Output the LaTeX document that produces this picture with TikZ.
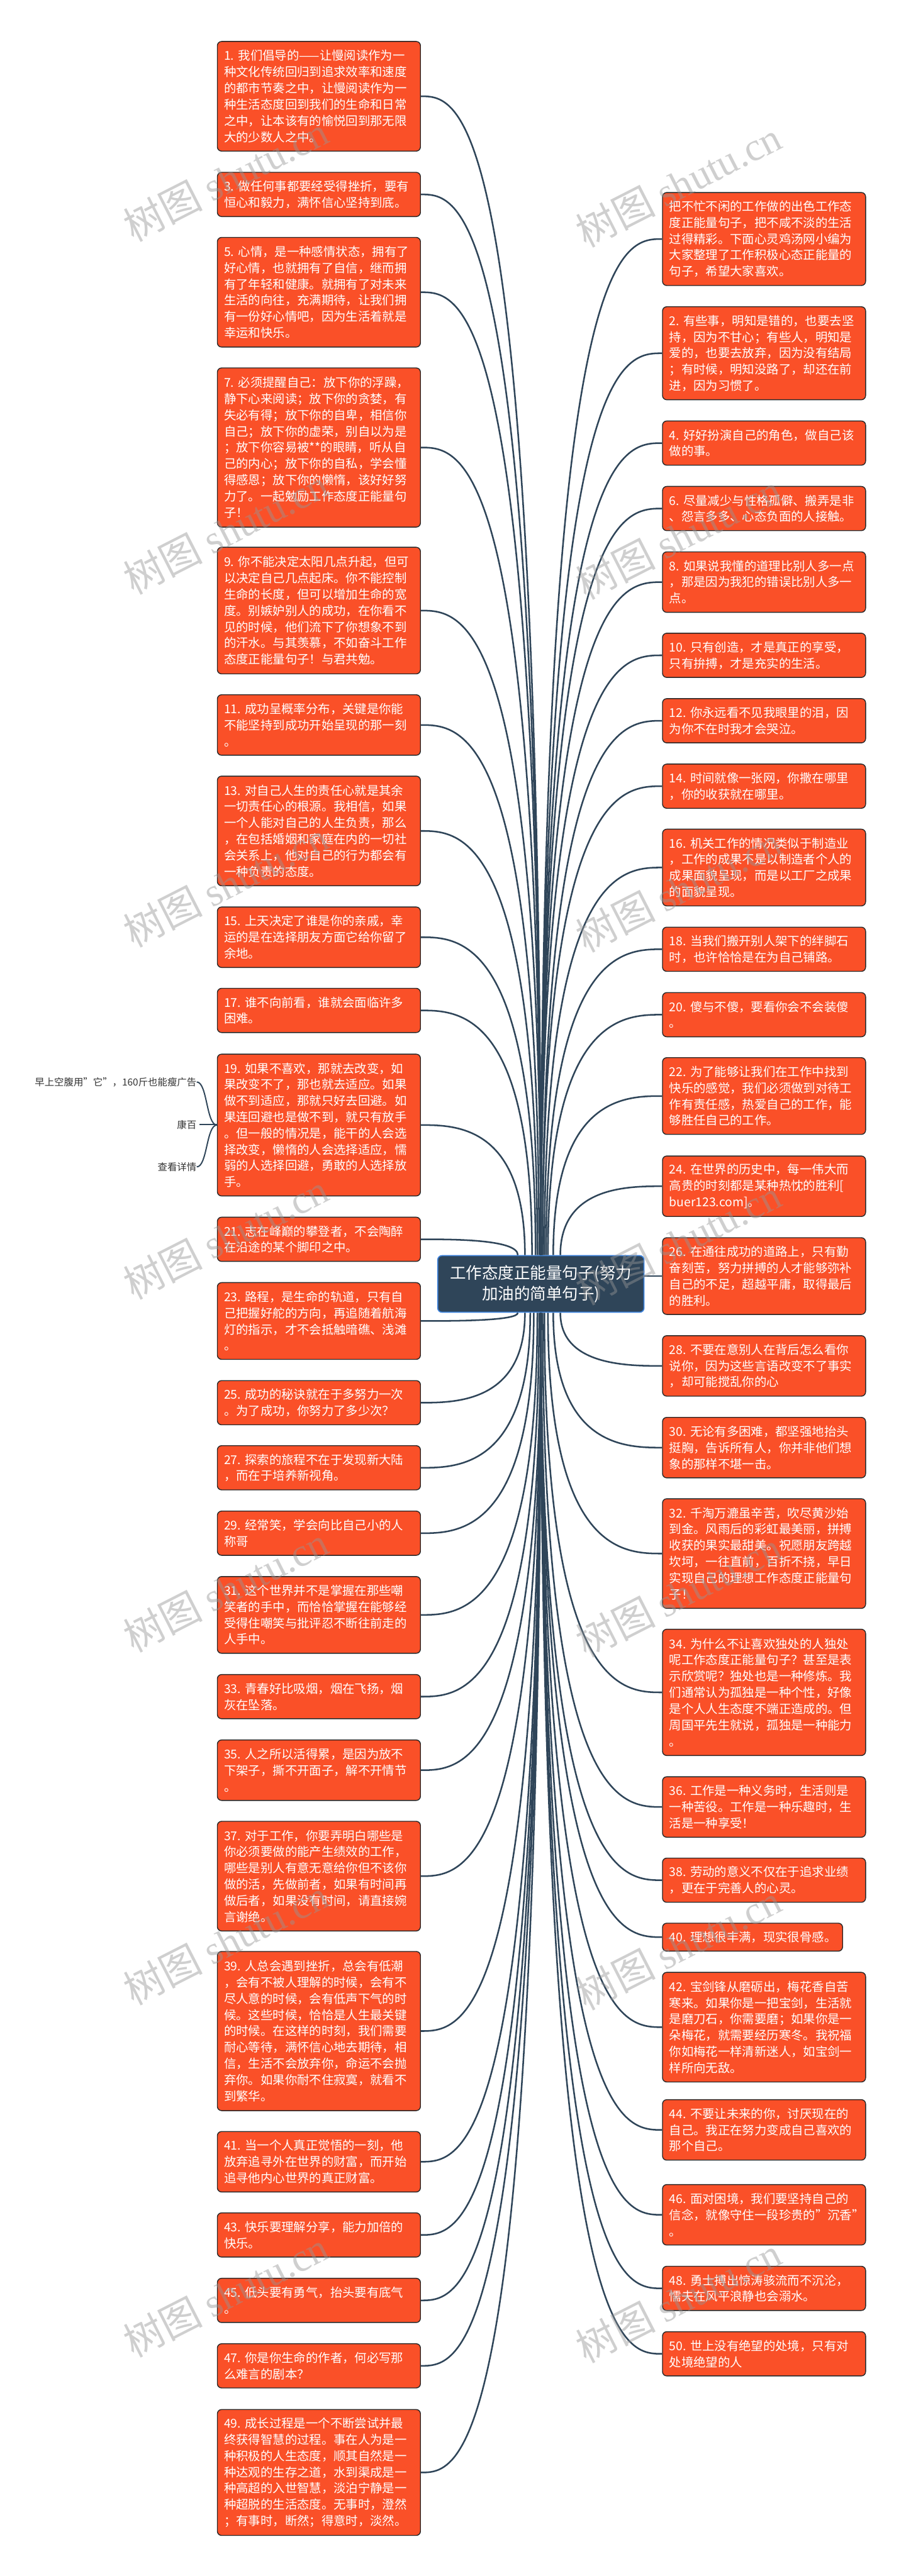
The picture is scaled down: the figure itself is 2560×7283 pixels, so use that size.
\documentclass[tikz,border=0pt]{standalone}
\usepackage{fontspec}
\setmainfont{Noto Sans CJK SC}
\newfontfamily\wmlatin{Liberation Serif}
\usetikzlibrary{calc}
\definecolor{org}{RGB}{250,80,40}
\definecolor{bdr}{RGB}{40,40,40}
\definecolor{cfill}{RGB}{47,69,89}
\definecolor{cbdr}{RGB}{60,130,220}
\definecolor{conncol}{RGB}{47,69,89}
\definecolor{wmcol}{RGB}{150,150,150}
\definecolor{smalltxt}{RGB}{51,51,51}
\tikzset{
  lbox/.style={draw=bdr, fill=org, line width=0.25mm, rounded corners=1.2mm, text=white,
    align=left, text width=53.6mm, inner xsep=1.9mm, inner ysep=0pt, anchor=north west,
    font=\fontsize{9.8pt}{13.06pt}\selectfont},
  cbox/.style={draw=cbdr, fill=cfill, line width=0.3mm, rounded corners=1.2mm, text=white,
    align=center, minimum width=58.3mm, minimum height=16mm, inner sep=0pt,
    font=\fontsize{12.9pt}{17pt}\selectfont},
  conn/.style={draw=conncol, line width=0.45mm},
  subconn/.style={draw=conncol, line width=0.35mm},
  smalllab/.style={anchor=east, text=smalltxt, inner sep=0pt, font=\fontsize{7.8pt}{9pt}\selectfont},
  wm/.style={text=wmcol, opacity=0.45, rotate=27, inner sep=0pt, font=\fontsize{32pt}{34pt}\selectfont}
}
\newcommand\lcon[3]{%
  \coordinate (s#1) at ($(c.#3)+(#2,0)$);
  \coordinate (k#1) at (s#1 |- #1.east);
  \draw[conn] (s#1) .. controls (k#1) and ($(#1.east)!0.33!(k#1)$) .. (#1.east);}
\newcommand\rcon[3]{%
  \coordinate (s#1) at ($(c.#3)+(#2,0)$);
  \coordinate (k#1) at (s#1 |- #1.west);
  \draw[conn] (s#1) .. controls (k#1) and ($(#1.west)!0.33!(k#1)$) .. (#1.west);}
\begin{document}
\begin{tikzpicture}[x=0.1mm,y=-0.1mm]
\useasboundingbox (0,0) rectangle (2560,7283);
\fill[white] (0,0) rectangle (2560,7283);

% center
\node[cbox] (c) at (1528.5,3630) {工作态度正能量句子(努力\\加油的简单句子)};

% left column
\node[lbox,minimum height=31mm] (l1) at (613,116) {1.~我们倡导的——让慢阅读作为一\\种文化传统回归到追求效率和速度\\的都市节奏之中，让慢阅读作为一\\种生活态度回到我们的生命和日常\\之中，让本该有的愉悦回到那无限\\大的少数人之中。};
\node[lbox,minimum height=12.5mm] (l3) at (613,486) {3.~做任何事都要经受得挫折，要有\\恒心和毅力，满怀信心坚持到底。};
\node[lbox,minimum height=31mm] (l5) at (613,670) {5.~心情，是一种感情状态，拥有了\\好心情，也就拥有了自信，继而拥\\有了年轻和健康。就拥有了对未来\\生活的向往，充满期待，让我们拥\\有一份好心情吧，因为生活着就是\\幸运和快乐。};
\node[lbox,minimum height=45mm] (l7) at (613,1039) {7.~必须提醒自己：放下你的浮躁，\\静下心来阅读；放下你的贪婪，有\\失必有得；放下你的自卑，相信你\\自己；放下你的虚荣，别自以为是\\；放下你容易被**的眼睛，听从自\\己的内心；放下你的自私，学会懂\\得感恩；放下你的懒惰，该好好努\\力了。一起勉励工作态度正能量句\\子！};
\node[lbox,minimum height=35.8mm] (l9) at (613,1546) {9.~你不能决定太阳几点升起，但可\\以决定自己几点起床。你不能控制\\生命的长度，但可以增加生命的宽\\度。别嫉妒别人的成功，在你看不\\见的时候，他们流下了你想象不到\\的汗水。与其羡慕，不如奋斗工作\\态度正能量句子！与君共勉。};
\node[lbox,minimum height=17.1mm] (l11) at (613,1963) {11.~成功呈概率分布，关键是你能\\不能坚持到成功开始呈现的那一刻\\。};
\node[lbox,minimum height=31mm] (l13) at (613,2193) {13.~对自己人生的责任心就是其余\\一切责任心的根源。我相信，如果\\一个人能对自己的人生负责，那么\\，在包括婚姻和家庭在内的一切社\\会关系上，他对自己的行为都会有\\一种负责的态度。};
\node[lbox,minimum height=17.1mm] (l15) at (613,2563) {15.~上天决定了谁是你的亲戚，幸\\运的是在选择朋友方面它给你留了\\余地。};
\node[lbox,minimum height=12.5mm] (l17) at (613,2793) {17.~谁不向前看，谁就会面临许多\\困难。};
\node[lbox,minimum height=40.1mm] (l19) at (613,2979) {19.~如果不喜欢，那就去改变，如\\果改变不了，那也就去适应。如果\\做不到适应，那就只好去回避。如\\果连回避也是做不到，就只有放手\\。但一般的情况是，能干的人会选\\择改变，懒惰的人会选择适应，懦\\弱的人选择回避，勇敢的人选择放\\手。};
\node[lbox,minimum height=12.5mm] (l21) at (613,3440) {21.~志在峰巅的攀登者，不会陶醉\\在沿途的某个脚印之中。};
\node[lbox,minimum height=21.7mm] (l23) at (613,3625) {23.~路程，是生命的轨道，只有自\\己把握好舵的方向，再追随着航海\\灯的指示，才不会抵触暗礁、浅滩\\。};
\node[lbox,minimum height=12.5mm] (l25) at (613,3902) {25.~成功的秘诀就在于多努力一次\\。为了成功，你努力了多少次？};
\node[lbox,minimum height=12.5mm] (l27) at (613,4086) {27.~探索的旅程不在于发现新大陆\\，而在于培养新视角。};
\node[lbox,minimum height=12.5mm] (l29) at (613,4271) {29.~经常笑，学会向比自己小的人\\称哥};
\node[lbox,minimum height=21.7mm] (l31) at (613,4456) {31.~这个世界并不是掌握在那些嘲\\笑者的手中，而恰恰掌握在能够经\\受得住嘲笑与批评忍不断往前走的\\人手中。};
\node[lbox,minimum height=12.5mm] (l33) at (613,4733) {33.~青春好比吸烟，烟在飞扬，烟\\灰在坠落。};
\node[lbox,minimum height=17.1mm] (l35) at (613,4918) {35.~人之所以活得累，是因为放不\\下架子，撕不开面子，解不开情节\\。};
\node[lbox,minimum height=31mm] (l37) at (613,5148) {37.~对于工作，你要弄明白哪些是\\你必须要做的能产生绩效的工作，\\哪些是别人有意无意给你但不该你\\做的活，先做前者，如果有时间再\\做后者，如果没有时间，请直接婉\\言谢绝。};
\node[lbox,minimum height=45mm] (l39) at (613,5516) {39.~人总会遇到挫折，总会有低潮\\，会有不被人理解的时候，会有不\\尽人意的时候，会有低声下气的时\\候。这些时候，恰恰是人生最关键\\的时候。在这样的时刻，我们需要\\耐心等待，满怀信心地去期待，相\\信，生活不会放弃你，命运不会抛\\弃你。如果你耐不住寂寞，就看不\\到繁华。};
\node[lbox,minimum height=17.1mm] (l41) at (613,6025) {41.~当一个人真正觉悟的一刻，他\\放弃追寻外在世界的财富，而开始\\追寻他内心世界的真正财富。};
\node[lbox,minimum height=12.5mm] (l43) at (613,6255) {43.~快乐要理解分享，能力加倍的\\快乐。};
\node[lbox,minimum height=12.5mm] (l45) at (613,6440) {45.~低头要有勇气，抬头要有底气\\。};
\node[lbox,minimum height=12.5mm] (l47) at (613,6625) {47.~你是你生命的作者，何必写那\\么难言的剧本？};
\node[lbox,minimum height=35.6mm] (l49) at (613,6811) {49.~成长过程是一个不断尝试并最\\终获得智慧的过程。事在人为是一\\种积极的人生态度，顺其自然是一\\种达观的生存之道，水到渠成是一\\种高超的入世智慧，淡泊宁静是一\\种超脱的生活态度。无事时，澄然\\；有事时，断然；得意时，淡然。};

% right column
\node[lbox,minimum height=26.3mm] (r0) at (1871,543) {把不忙不闲的工作做的出色工作态\\度正能量句子，把不咸不淡的生活\\过得精彩。下面心灵鸡汤网小编为\\大家整理了工作积极心态正能量的\\句子，希望大家喜欢。};
\node[lbox,minimum height=26.3mm] (r2) at (1871,866) {2.~有些事，明知是错的，也要去坚\\持，因为不甘心；有些人，明知是\\爱的，也要去放弃，因为没有结局\\；有时候，明知没路了，却还在前\\进，因为习惯了。};
\node[lbox,minimum height=12.5mm] (r4) at (1871,1189) {4.~好好扮演自己的角色，做自己该\\做的事。};
\node[lbox,minimum height=12.5mm] (r6) at (1871,1374) {6.~尽量减少与性格孤僻、搬弄是非\\、怨言多多、心态负面的人接触。};
\node[lbox,minimum height=17.1mm] (r8) at (1871,1559) {8.~如果说我懂的道理比别人多一点\\，那是因为我犯的错误比别人多一\\点。};
\node[lbox,minimum height=12.5mm] (r10) at (1871,1789) {10.~只有创造，才是真正的享受，\\只有拚搏，才是充实的生活。};
\node[lbox,minimum height=12.5mm] (r12) at (1871,1974) {12.~你永远看不见我眼里的泪，因\\为你不在时我才会哭泣。};
\node[lbox,minimum height=12.5mm] (r14) at (1871,2159) {14.~时间就像一张网，你撒在哪里\\，你的收获就在哪里。};
\node[lbox,minimum height=21.7mm] (r16) at (1871,2343) {16.~机关工作的情况类似于制造业\\，工作的成果不是以制造者个人的\\成果面貌呈现，而是以工厂之成果\\的面貌呈现。};
\node[lbox,minimum height=12.5mm] (r18) at (1871,2620) {18.~当我们搬开别人架下的绊脚石\\时，也许恰恰是在为自己铺路。};
\node[lbox,minimum height=12.5mm] (r20) at (1871,2805) {20.~傻与不傻，要看你会不会装傻\\。};
\node[lbox,minimum height=21.7mm] (r22) at (1871,2989) {22.~为了能够让我们在工作中找到\\快乐的感觉，我们必须做到对待工\\作有责任感，热爱自己的工作，能\\够胜任自己的工作。};
\node[lbox,minimum height=17.1mm] (r24) at (1871,3267) {24.~在世界的历史中，每一伟大而\\高贵的时刻都是某种热忱的胜利[\\buer123.com]。};
\node[lbox,minimum height=21.7mm] (r26) at (1871,3498) {26.~在通往成功的道路上，只有勤\\奋刻苦，努力拼搏的人才能够弥补\\自己的不足，超越平庸，取得最后\\的胜利。};
\node[lbox,minimum height=17.1mm] (r28) at (1871,3775) {28.~不要在意别人在背后怎么看你\\说你，因为这些言语改变不了事实\\，却可能搅乱你的心};
\node[lbox,minimum height=17.1mm] (r30) at (1871,4006) {30.~无论有多困难，都坚强地抬头\\挺胸，告诉所有人，你并非他们想\\象的那样不堪一击。};
\node[lbox,minimum height=31mm] (r32) at (1871,4236) {32.~千淘万漉虽辛苦，吹尽黄沙始\\到金。风雨后的彩虹最美丽，拼搏\\收获的果实最甜美。祝愿朋友跨越\\坎坷，一往直前，百折不挠，早日\\实现自己的理想工作态度正能量句\\子！};
\node[lbox,minimum height=35.7mm] (r34) at (1871,4605) {34.~为什么不让喜欢独处的人独处\\呢工作态度正能量句子？甚至是表\\示欣赏呢？独处也是一种修炼。我\\们通常认为孤独是一种个性，好像\\是个人人生态度不端正造成的。但\\周国平先生就说，孤独是一种能力\\。};
\node[lbox,minimum height=17.1mm] (r36) at (1871,5022) {36.~工作是一种义务时，生活则是\\一种苦役。工作是一种乐趣时，生\\活是一种享受！};
\node[lbox,minimum height=12.5mm] (r38) at (1871,5252) {38.~劳动的意义不仅在于追求业绩\\，更在于完善人的心灵。};
\node[lbox,minimum height=7.9mm,text width=47.1mm] (r40) at (1871,5436) {40.~理想很丰满，现实很骨感。};
\node[lbox,minimum height=31mm] (r42) at (1871,5575) {42.~宝剑锋从磨砺出，梅花香自苦\\寒来。如果你是一把宝剑，生活就\\是磨刀石，你需要磨；如果你是一\\朵梅花，就需要经历寒冬。我祝福\\你如梅花一样清新迷人，如宝剑一\\样所向无敌。};
\node[lbox,minimum height=17.1mm] (r44) at (1871,5935) {44.~不要让未来的你，讨厌现在的\\自己。我正在努力变成自己喜欢的\\那个自己。};
\node[lbox,minimum height=17.1mm] (r46) at (1871,6175) {46.~面对困境，我们要坚持自己的\\信念，就像守住一段珍贵的"沉香"\\。};
\node[lbox,minimum height=12.5mm] (r48) at (1871,6406) {48.~勇士搏出惊涛骇流而不沉沦，\\懦夫在风平浪静也会溺水。};
\node[lbox,minimum height=12.5mm] (r50) at (1871,6591) {50.~世上没有绝望的处境，只有对\\处境绝望的人};

% small labels at left of 19
\node[smalllab] (a1) at (556,3059) {早上空腹用"它"，160斤也能瘦广告};
\node[smalllab] (a2) at (556,3180) {康百};
\node[smalllab] (a3) at (556,3299) {查看详情};
\draw[subconn] (l19.west) .. controls +(-30,0) and +(30,0) .. (a1.east);
\draw[subconn] (l19.west) -- (a2.east -| l19.west) -- ($(a2.east)+(8,0)$);
\draw[subconn] (l19.west) .. controls +(-30,0) and +(30,0) .. (a3.east);

% connectors left, above center
\lcon{l1}{0}{north}
\lcon{l3}{0}{north}
\lcon{l5}{0}{north}
\lcon{l7}{0}{north}
\lcon{l9}{0}{north}
\lcon{l11}{-5}{north}
\lcon{l13}{-10}{north}
\lcon{l15}{-15}{north}
\lcon{l17}{-25}{north}
\lcon{l19}{-45}{north}
\lcon{l21}{-65}{north}
% left, below center
\lcon{l23}{-65}{south}
\lcon{l25}{-45}{south}
\lcon{l27}{-30}{south}
\lcon{l29}{-20}{south}
\lcon{l31}{-10}{south}
\lcon{l33}{-5}{south}
\lcon{l35}{0}{south}
\lcon{l37}{0}{south}
\lcon{l39}{0}{south}
\lcon{l41}{0}{south}
\lcon{l43}{0}{south}
\lcon{l45}{0}{south}
\lcon{l47}{0}{south}
\lcon{l49}{0}{south}
% right, above center
\rcon{r0}{0}{north}
\rcon{r2}{0}{north}
\rcon{r4}{0}{north}
\rcon{r6}{0}{north}
\rcon{r8}{0}{north}
\rcon{r10}{0}{north}
\rcon{r12}{5}{north}
\rcon{r14}{5}{north}
\rcon{r16}{10}{north}
\rcon{r18}{15}{north}
\rcon{r20}{20}{north}
\rcon{r22}{35}{north}
\rcon{r24}{55}{north}
\draw[conn] (c.east |- r26.west) -- (r26.west);
% right, below center
\rcon{r28}{55}{south}
\rcon{r30}{35}{south}
\rcon{r32}{20}{south}
\rcon{r34}{10}{south}
\rcon{r36}{5}{south}
\rcon{r38}{0}{south}
\rcon{r40}{0}{south}
\rcon{r42}{0}{south}
\rcon{r44}{0}{south}
\rcon{r46}{0}{south}
\rcon{r48}{0}{south}
\rcon{r50}{0}{south}

% watermarks
\foreach \k in {0,...,6}{
  \node[wm] (wl\k) at (638,{505+997*\k}) {树图 {\wmlatin shutu.cn}};
  \node[wm] (wr\k) at (1917,{520+997*\k}) {树图 {\wmlatin shutu.cn}};
}
\end{tikzpicture}
\end{document}
